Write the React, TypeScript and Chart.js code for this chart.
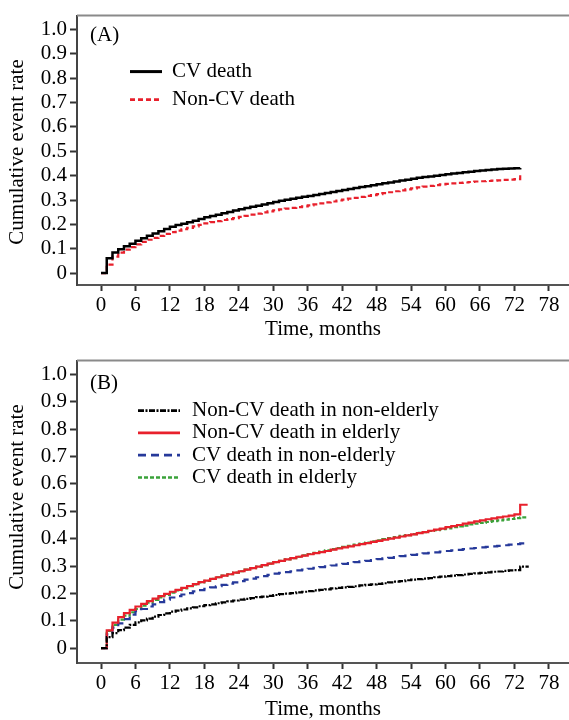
import React, { useEffect, useRef } from 'react';
import { Chart, registerables } from 'chart.js';

Chart.register(...registerables);

// ---------- data ----------
const X_TICKS = [0, 6, 12, 18, 24, 30, 36, 42, 48, 54, 60, 66, 72, 78];
const Y_TICKS = [0, 0.1, 0.2, 0.3, 0.4, 0.5, 0.6, 0.7, 0.8, 0.9, 1.0];
const X_TITLE = 'Time, months';
const Y_TITLE = 'Cumulative event rate';

// Panel A (months)
const A_LABELS = ['CV death', 'Non-CV death'];
const A_T = [0, 1, 2, 3, 4, 5, 6, 7, 8, 9, 10, 11, 12, 13, 14, 15, 16, 17, 18, 19, 20, 21, 22, 23, 24, 25, 26, 27, 28, 29, 30, 31, 32, 33, 34, 35, 36, 37, 38, 39, 40, 41, 42, 43, 44, 45, 46, 47, 48, 49, 50, 51, 52, 53, 54, 55, 56, 57, 58, 59, 60, 61, 62, 63, 64, 65, 66, 67, 68, 69, 70, 71, 72, 73];
const A_CV = [0, 0.061, 0.085, 0.098, 0.11, 0.121, 0.133, 0.143, 0.153, 0.163, 0.172, 0.181, 0.19, 0.197, 0.203, 0.209, 0.215, 0.222, 0.229, 0.234, 0.24, 0.246, 0.251, 0.257, 0.262, 0.267, 0.272, 0.277, 0.282, 0.287, 0.292, 0.297, 0.301, 0.305, 0.309, 0.313, 0.317, 0.321, 0.325, 0.329, 0.333, 0.337, 0.341, 0.345, 0.349, 0.353, 0.357, 0.361, 0.365, 0.369, 0.372, 0.376, 0.38, 0.383, 0.387, 0.391, 0.394, 0.397, 0.4, 0.403, 0.406, 0.409, 0.411, 0.414, 0.416, 0.419, 0.421, 0.423, 0.425, 0.427, 0.428, 0.429, 0.43, 0.431];
const A_NCV = [0, 0.035, 0.068, 0.084, 0.096, 0.107, 0.118, 0.128, 0.137, 0.145, 0.153, 0.161, 0.168, 0.174, 0.18, 0.186, 0.192, 0.198, 0.204, 0.209, 0.213, 0.218, 0.222, 0.226, 0.231, 0.235, 0.24, 0.244, 0.249, 0.253, 0.258, 0.262, 0.265, 0.268, 0.271, 0.274, 0.278, 0.282, 0.286, 0.29, 0.294, 0.298, 0.302, 0.306, 0.309, 0.313, 0.317, 0.32, 0.324, 0.328, 0.332, 0.336, 0.34, 0.344, 0.348, 0.352, 0.355, 0.358, 0.361, 0.364, 0.366, 0.368, 0.37, 0.372, 0.374, 0.376, 0.377, 0.378, 0.38, 0.381, 0.383, 0.384, 0.386, 0.405];

// Panel B (months)
const B_LABELS = ['Non-CV death in non-elderly', 'Non-CV death in elderly', 'CV death in non-elderly', 'CV death in elderly'];
const B_T = [0, 1, 2, 3, 4, 5, 6, 7, 8, 9, 10, 11, 12, 13, 14, 15, 16, 17, 18, 19, 20, 21, 22, 23, 24, 25, 26, 27, 28, 29, 30, 31, 32, 33, 34, 35, 36, 37, 38, 39, 40, 41, 42, 43, 44, 45, 46, 47, 48, 49, 50, 51, 52, 53, 54, 55, 56, 57, 58, 59, 60, 61, 62, 63, 64, 65, 66, 67, 68, 69, 70, 71, 72, 73, 74.3];
const B_NCV_YOUNG = [0, 0.04, 0.055, 0.066, 0.075, 0.085, 0.094, 0.101, 0.108, 0.115, 0.121, 0.127, 0.133, 0.137, 0.141, 0.145, 0.149, 0.153, 0.157, 0.16, 0.164, 0.167, 0.171, 0.174, 0.177, 0.18, 0.183, 0.186, 0.188, 0.191, 0.194, 0.197, 0.199, 0.201, 0.204, 0.206, 0.208, 0.211, 0.213, 0.215, 0.218, 0.22, 0.222, 0.224, 0.226, 0.229, 0.231, 0.233, 0.235, 0.237, 0.24, 0.243, 0.245, 0.248, 0.25, 0.252, 0.254, 0.256, 0.259, 0.261, 0.263, 0.265, 0.267, 0.269, 0.271, 0.273, 0.275, 0.277, 0.279, 0.28, 0.282, 0.284, 0.285, 0.298, 0.302];
const B_NCV_OLD = [0, 0.065, 0.093, 0.113, 0.128, 0.14, 0.152, 0.162, 0.172, 0.181, 0.19, 0.198, 0.206, 0.213, 0.22, 0.227, 0.234, 0.241, 0.247, 0.253, 0.259, 0.265, 0.27, 0.276, 0.281, 0.287, 0.292, 0.298, 0.303, 0.309, 0.314, 0.319, 0.324, 0.329, 0.334, 0.338, 0.343, 0.347, 0.351, 0.355, 0.36, 0.364, 0.368, 0.372, 0.376, 0.38, 0.384, 0.388, 0.392, 0.396, 0.4, 0.404, 0.408, 0.412, 0.416, 0.42, 0.424, 0.429, 0.433, 0.437, 0.442, 0.446, 0.45, 0.455, 0.459, 0.463, 0.467, 0.471, 0.474, 0.478, 0.481, 0.484, 0.489, 0.524, 0.524];
const B_CV_YOUNG = [0, 0.05, 0.075, 0.09, 0.106, 0.122, 0.135, 0.143, 0.152, 0.16, 0.168, 0.177, 0.185, 0.19, 0.196, 0.201, 0.207, 0.212, 0.217, 0.222, 0.226, 0.231, 0.236, 0.24, 0.245, 0.25, 0.254, 0.259, 0.263, 0.268, 0.272, 0.275, 0.278, 0.281, 0.284, 0.287, 0.29, 0.293, 0.296, 0.299, 0.302, 0.305, 0.308, 0.311, 0.314, 0.317, 0.319, 0.322, 0.325, 0.328, 0.33, 0.333, 0.336, 0.338, 0.341, 0.343, 0.346, 0.348, 0.35, 0.353, 0.355, 0.357, 0.359, 0.362, 0.364, 0.366, 0.368, 0.37, 0.372, 0.374, 0.376, 0.378, 0.38, 0.383, 0.386];
const B_CV_OLD = [0, 0.063, 0.085, 0.104, 0.119, 0.131, 0.143, 0.155, 0.166, 0.176, 0.185, 0.194, 0.203, 0.211, 0.218, 0.226, 0.233, 0.24, 0.246, 0.253, 0.259, 0.265, 0.27, 0.276, 0.281, 0.287, 0.292, 0.298, 0.303, 0.309, 0.314, 0.319, 0.324, 0.329, 0.334, 0.339, 0.344, 0.348, 0.353, 0.357, 0.362, 0.366, 0.37, 0.374, 0.378, 0.382, 0.386, 0.39, 0.394, 0.398, 0.402, 0.406, 0.41, 0.413, 0.417, 0.421, 0.424, 0.428, 0.431, 0.435, 0.438, 0.442, 0.445, 0.448, 0.452, 0.455, 0.458, 0.461, 0.464, 0.467, 0.47, 0.472, 0.475, 0.478, 0.48];

// ---------- style ----------
const FONT_FAMILY = "'Liberation Serif', 'Times New Roman', serif";
const FONT_SIZE = 21;
const W = 569;

const pts = (t: number[], v: number[]) => t.map((x, i) => ({ x, y: v[i] }));

const panelDecor = {
  id: 'panelDecor',
  afterDraw(chart: any, _args: any, opts: any) {
    const { ctx, chartArea: ca } = chart;
    ctx.save();
    ctx.strokeStyle = '#8a8a8a';
    ctx.lineWidth = 2;
    ctx.beginPath();
    ctx.moveTo(ca.left, ca.top);
    ctx.lineTo(ca.right, ca.top);
    ctx.stroke();

    ctx.fillStyle = '#000';
    ctx.font = `${FONT_SIZE}px ${FONT_FAMILY}`;
    ctx.textBaseline = 'middle';
    ctx.textAlign = 'left';
    ctx.fillText(opts.tag, ca.left + opts.tagDx, ca.top + opts.tagDy);

    chart.data.datasets.forEach((ds: any, i: number) => {
      const y = ca.top + opts.legendDy + i * opts.rowH;
      const x0 = ca.left + opts.legendDx;
      ctx.strokeStyle = ds.borderColor;
      ctx.lineWidth = ds.borderWidth + 0.5;
      ctx.setLineDash(ds.borderDash || []);
      ctx.beginPath();
      ctx.moveTo(x0, y);
      ctx.lineTo(x0 + opts.lineLen, y);
      ctx.stroke();
      ctx.setLineDash([]);
      ctx.fillText(ds.label, x0 + opts.lineLen + opts.textGap, y);
    });

    ctx.translate(opts.yTitleX, opts.yTitleY);
    ctx.rotate(-Math.PI / 2);
    ctx.textAlign = 'center';
    ctx.fillText(Y_TITLE, 0, 0);
    ctx.restore();
  },
};

function makeOptions(cfg: any) {
  const font = { family: FONT_FAMILY, size: FONT_SIZE };
  return {
    responsive: false,
    animation: false,
    layout: { padding: { top: cfg.padTop, left: 0, right: 0, bottom: 0 } },
    plugins: {
      legend: { display: false },
      tooltip: { enabled: false },
      panelDecor: cfg.decor,
    },
    elements: { point: { radius: 0 }, line: { tension: 0 } },
    scales: {
      x: {
        type: 'linear',
        min: cfg.xMin,
        max: cfg.xMax,
        afterBuildTicks: (s: any) => { s.ticks = X_TICKS.map((v) => ({ value: v })); },
        afterFit: (s: any) => { s.height = cfg.xAxisH; },
        ticks: { font, color: '#000', padding: 2, autoSkip: false, maxRotation: 0, minRotation: 0,
          callback: (v: any) => String(v) },
        grid: { drawOnChartArea: false, drawTicks: true, tickLength: 6, tickColor: '#333', tickWidth: 2 },
        border: { display: true, color: '#555', width: 2 },
        title: { display: true, text: X_TITLE, font: { ...font, lineHeight: 1 }, color: '#000', padding: { top: 0, bottom: cfg.xTitlePad } },
      },
      y: {
        type: 'linear',
        min: cfg.yMin,
        max: cfg.yMax,
        afterBuildTicks: (s: any) => { s.ticks = Y_TICKS.map((v) => ({ value: v })); },
        afterFit: (s: any) => { s.width = 77; },
        ticks: { font, color: '#000', padding: 3, autoSkip: false,
          callback: (v: any) => (v === 0 ? '0' : Number(v).toFixed(1)) },
        grid: { drawOnChartArea: false, drawTicks: true, tickLength: 7, tickColor: '#333', tickWidth: 2 },
        border: { display: true, color: '#444', width: 2 },
        title: { display: false },
      },
    },
  };
}

function Panel({ height, top, datasets, cfg }: any) {
  const ref = useRef<HTMLCanvasElement | null>(null);
  useEffect(() => {
    if (!ref.current) return;
    const chart = new Chart(ref.current, {
      type: 'line',
      data: { datasets },
      options: makeOptions(cfg) as any,
      plugins: [panelDecor as any],
    });
    return () => chart.destroy();
  }, []);
  return (
    <canvas
      ref={ref}
      width={W}
      height={height}
      style={{ position: 'absolute', left: 0, top, width: W, height }}
    />
  );
}

const lineDs = (label: string, data: any[], color: string, width: number, dash: number[]) => ({
  label,
  data,
  borderColor: color,
  backgroundColor: color,
  borderWidth: width,
  borderDash: dash,
  stepped: true,
  pointRadius: 0,
  fill: false,
  borderJoinStyle: 'miter',
  borderCapStyle: 'butt',
});

export default function App() {
  const dsA = [
    lineDs(A_LABELS[0], pts(A_T, A_CV), '#000000', 2.5, []),
    lineDs(A_LABELS[1], pts(A_T, A_NCV), '#e8202c', 2.2, [5, 3]),
  ];
  const dsB = [
    lineDs(B_LABELS[0], pts(B_T, B_NCV_YOUNG), '#000000', 2.2, [6, 1.5, 2, 1.5]),
    lineDs(B_LABELS[1], pts(B_T, B_NCV_OLD), '#e8202c', 2.2, []),
    lineDs(B_LABELS[2], pts(B_T, B_CV_YOUNG), '#26399a', 2.2, [8, 5]),
    lineDs(B_LABELS[3], pts(B_T, B_CV_OLD), '#3aa23a', 2.2, [4, 2]),
  ];
  const cfgA = {
    padTop: 13, xAxisH: 60, xTitlePad: 5,
    xMin: -4.18, xMax: 81.5, yMin: -0.0488, yMax: 1.057,
    decor: { tag: '(A)', tagDx: 13, tagDy: 20, legendDx: 53, legendDy: 56, rowH: 28, lineLen: 32, textGap: 10, yTitleX: 17.5, yTitleY: 152 },
  };
  const cfgB = {
    padTop: 14, xAxisH: 57, xTitlePad: 0,
    xMin: -4.18, xMax: 81.5, yMin: -0.0545, yMax: 1.051,
    decor: { tag: '(B)', tagDx: 13, tagDy: 23, legendDx: 61, legendDy: 50, rowH: 22.3, lineLen: 42, textGap: 12, yTitleX: 17.5, yTitleY: 152 },
  };
  return (
    <div style={{ position: 'absolute', left: 0, top: 0, width: W, height: 720, background: '#fff', overflow: 'hidden' }}>
      <Panel height={345} top={0} datasets={dsA} cfg={cfgA} />
      <Panel height={375} top={345} datasets={dsB} cfg={cfgB} />
    </div>
  );
}
